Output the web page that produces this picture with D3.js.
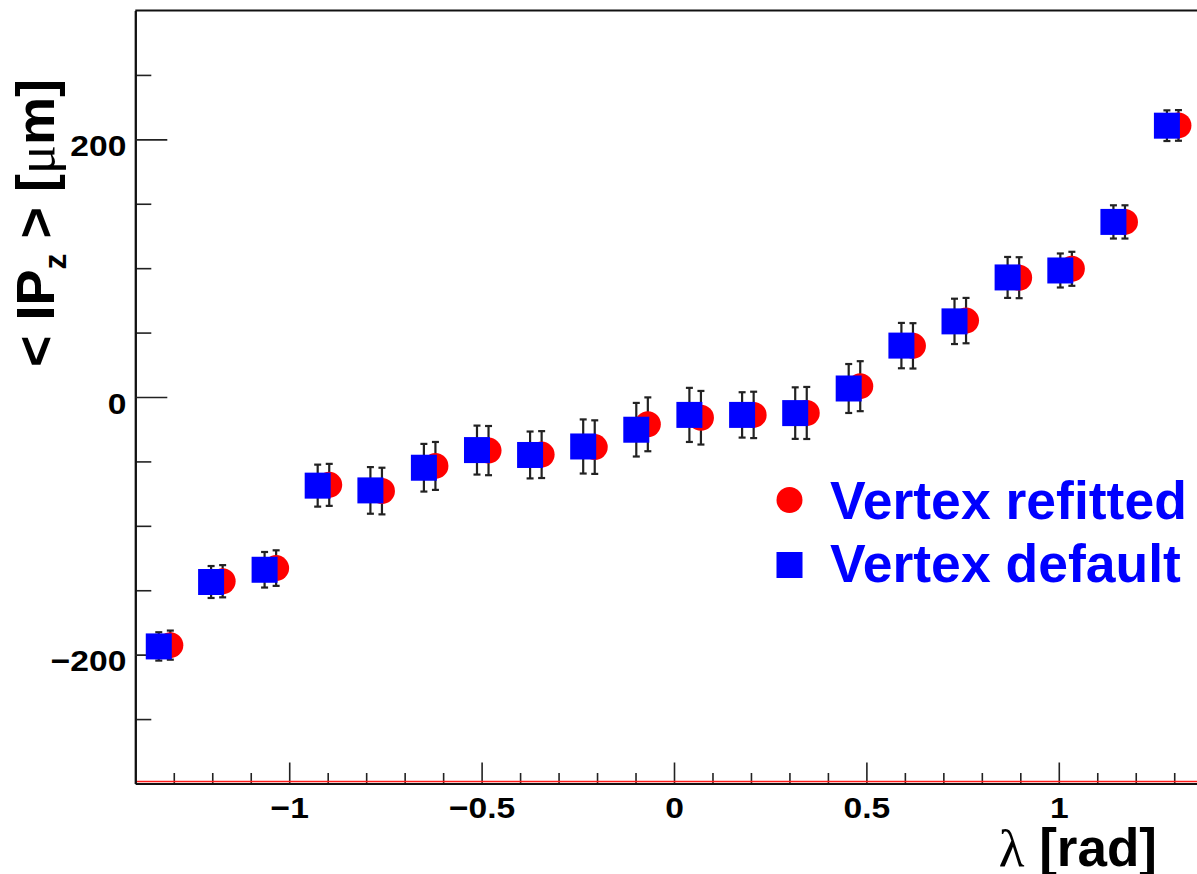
<!DOCTYPE html>
<html><head><meta charset="utf-8">
<script src="https://cdn.jsdelivr.net/npm/d3@7"></script>
<style>body{margin:0;background:#fff;} svg{display:block;}</style>
</head><body><svg id="c" width="1197" height="874"></svg>
<script>
// ---- data ----
const lambdaDefault = [-1.339,-1.203,-1.064,-0.926,-0.789,-0.650,-0.512,-0.374,-0.236,-0.098,0.040,0.177,0.315,0.454,0.591,0.729,0.867,1.004,1.142,1.281];
const ipzDefault    = [-193.6,-143.6,-134.1,-68.8,-72.5,-54.9,-41.2,-45.0,-38.4,-25.4,-13.9,-13.9,-12.5,6.6,39.9,58.7,92.8,98.2,135.9,210.6];
const errDefault    = [11.0,12.4,13.8,16.3,18.1,18.5,19.0,18.2,21.0,20.8,21.0,17.6,20.0,19.0,17.6,17.6,15.9,13.2,12.9,11.9];
const lambdaRefit   = [-1.309,-1.173,-1.034,-0.896,-0.759,-0.620,-0.482,-0.344,-0.206,-0.068,0.070,0.207,0.345,0.484,0.621,0.759,0.897,1.034,1.172,1.311];
const ipzRefit      = [-192.6,-143.0,-132.8,-68.2,-73.0,-53.5,-41.6,-44.7,-38.9,-21.2,-16.1,-13.9,-12.4,8.4,39.7,59.3,92.6,99.5,135.9,210.8];
const errRefit      = [11.3,12.5,13.8,16.3,18.1,18.6,19.1,18.2,20.8,20.9,20.8,18.0,20.2,19.4,17.6,17.6,15.9,13.2,12.9,11.9];
const xMajorTicks = [-1,-0.5,0,0.5,1];
const xMinorTicks = [-1.3,-1.2,-1.1,-0.9,-0.8,-0.7,-0.6,-0.4,-0.3,-0.2,-0.1,0.1,0.2,0.3,0.4,0.6,0.7,0.8,0.9,1.1,1.2,1.3];
const yMajorTicks = [-200,0,200];
const yMinorTicks = [-250,-150,-100,-50,50,100,150,250];
const seriesNames = ["Vertex refitted","Vertex default"];

const svg = d3.select("#c");
const FONT = "'Liberation Sans', Arial, Helvetica, sans-serif";
const SERIF = "'Liberation Serif', 'DejaVu Serif', serif";
const x = d3.scaleLinear().domain([-1.4,1.4]).range([135.3,1212.7]);
const y = d3.scaleLinear().domain([-300,300]).range([783.5,10.5]);
const fmt = v => (v<0 ? "\u2212"+Math.abs(v) : String(v));

// frame top
svg.append("line").attr("x1",x(-1.4)).attr("x2",x(1.4)).attr("y1",y(300)).attr("y2",y(300))
  .attr("stroke","#111").attr("stroke-width",2);

// x axis
const gx = svg.append("g").attr("transform",`translate(0,${y(-300)})`);
gx.call(d3.axisBottom(x).tickValues(xMinorTicks).tickSize(-10.5).tickSizeOuter(0).tickFormat(""));
const gx2 = svg.append("g").attr("transform",`translate(0,${y(-300)})`);
gx2.call(d3.axisBottom(x).tickValues(xMajorTicks).tickSize(-21).tickSizeOuter(0).tickFormat(fmt));
[gx,gx2].forEach(g=>{
  g.select(".domain").attr("stroke","#111").attr("stroke-width",2);
  g.selectAll(".tick line").attr("stroke","#222").attr("stroke-width",1.6);
});
gx2.selectAll("text").attr("y",0).attr("dy",34.5).attr("fill","#000")
  .attr("font-family",FONT).attr("font-weight","bold").attr("font-size",30)
  .attr("transform","scale(1.12,1)");
// red line at bottom
svg.append("line").attr("x1",x(-1.4)+1).attr("x2",x(1.4)).attr("y1",y(-300)-1.9).attr("y2",y(-300)-1.9)
  .attr("stroke","#ff1a1a").attr("stroke-width",1.5);

// y axis
const gy = svg.append("g").attr("transform",`translate(${x(-1.4)},0)`);
gy.call(d3.axisLeft(y).tickValues(yMinorTicks).tickSize(-16).tickSizeOuter(0).tickFormat(""));
const gy2 = svg.append("g").attr("transform",`translate(${x(-1.4)},0)`);
gy2.call(d3.axisLeft(y).tickValues(yMajorTicks).tickSize(-32).tickSizeOuter(0).tickPadding(8).tickFormat(fmt));
[gy,gy2].forEach(g=>{
  g.select(".domain").attr("stroke","#111").attr("stroke-width",2);
  g.selectAll(".tick line").attr("stroke","#222").attr("stroke-width",1.6);
});
gy2.selectAll("text").attr("dy",16).attr("fill","#000")
  .attr("font-family",FONT).attr("font-weight","bold").attr("font-size",30)
  .attr("transform","scale(1.12,1)");

// series drawing
function errorBars(xs, ys, es) {
  const g = svg.append("g").attr("stroke","#222").attr("stroke-width",2.2);
  const d = xs.map((v,i)=>({x:v,y:ys[i],e:es[i]}));
  g.selectAll("line.v").data(d).join("line").attr("class","v")
    .attr("x1",d=>x(d.x)).attr("x2",d=>x(d.x)).attr("y1",d=>y(d.y-d.e)).attr("y2",d=>y(d.y+d.e));
  g.selectAll("line.t").data(d).join("line").attr("class","t")
    .attr("x1",d=>x(d.x)-3.5).attr("x2",d=>x(d.x)+3.5).attr("y1",d=>y(d.y+d.e)).attr("y2",d=>y(d.y+d.e));
  g.selectAll("line.b").data(d).join("line").attr("class","b")
    .attr("x1",d=>x(d.x)-3.5).attr("x2",d=>x(d.x)+3.5).attr("y1",d=>y(d.y-d.e)).attr("y2",d=>y(d.y-d.e));
}
errorBars(lambdaRefit, ipzRefit, errRefit);
svg.append("g").selectAll("circle").data(lambdaRefit).join("circle")
  .attr("cx",(d)=>x(d)).attr("cy",(d,i)=>y(ipzRefit[i])).attr("r",13).attr("fill","#ff0000");
errorBars(lambdaDefault, ipzDefault, errDefault);
svg.append("g").selectAll("rect").data(lambdaDefault).join("rect")
  .attr("x",(d)=>x(d)-13).attr("y",(d,i)=>y(ipzDefault[i])-13).attr("width",26).attr("height",26).attr("fill","#0000ff");

// legend
svg.append("circle").attr("cx",789.5).attr("cy",500).attr("r",13).attr("fill","#ff0000");
svg.append("rect").attr("x",776.5).attr("y",552).attr("width",26).attr("height",26).attr("fill","#0000ff");
svg.append("text").attr("x",830).attr("y",519).text(seriesNames[0])
  .attr("font-family",FONT).attr("font-weight","bold").attr("font-size",53.5).attr("fill","#0000ff");
svg.append("text").attr("x",830).attr("y",582).text(seriesNames[1])
  .attr("font-family",FONT).attr("font-weight","bold").attr("font-size",53.5).attr("fill","#0000ff");

// x title
const xt = svg.append("text").attr("x",1157).attr("y",866).attr("text-anchor","end")
  .attr("font-family",FONT).attr("font-weight","bold").attr("font-size",53).attr("fill","#000");
xt.append("tspan").attr("font-family",SERIF).attr("font-weight","normal").text("\u03bb");
xt.append("tspan").text(" [rad]");

// y title
const yt = svg.append("text").attr("transform","translate(54,79) rotate(-90)").attr("text-anchor","end")
  .attr("font-family",FONT).attr("font-weight","bold").attr("font-size",54).attr("fill","#000");
yt.append("tspan").text("< IP");
yt.append("tspan").attr("font-size",32).attr("dy",12).text("z");
yt.append("tspan").attr("dy",-12).text(" > [");
yt.append("tspan").attr("font-family",SERIF).attr("font-weight","normal").text("\u03bc");
yt.append("tspan").text("m]");
</script></body></html>
